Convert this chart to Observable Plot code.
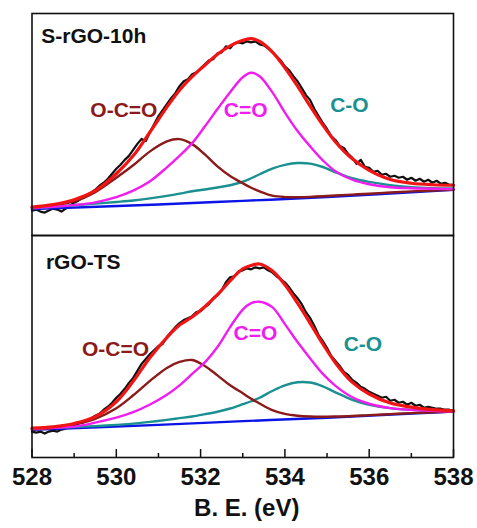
<!DOCTYPE html>
<html><head><meta charset="utf-8">
<script src="https://cdn.jsdelivr.net/npm/d3@7"></script>
<script src="https://cdn.jsdelivr.net/npm/@observablehq/plot@0.6"></script>
<style>body{margin:0;background:#fff} #chart svg{display:block}</style>
</head><body><div id="chart"></div>
<script>
// Panels
const panels = ["S-rGO-10h", "rGO-TS"];

// Raw (measured) spectra, sampled every 0.1 eV from 528 to 538 eV
const rawStart = 528, rawStep = 0.1;
const rawTop = [25,26,24,23,25,27,26,24,27,30, 33,35,38,40,43,46,50,53,57,62, 67,71,76,80,86,92,97,95,104,112, 120,126,132,138,143,150,155,157,162,164, 168,172,176,177,183,184,190,188,193,194, 193,195,194,195,192,191,188,184,180,176, 170,166,160,155,148,141,136,127,120,113, 107,100,96,90,88,82,78,72,76,69, 68,64,65,61,62,59,60,58,59,56, 58,55,57,54,56,53,55,52,53,51, 51];
const rawBottom = [26,25,26,24,26,27,26,28,29,31, 32,34,35,37,39,42,44,48,51,55, 60,64,69,75,80,87,94,99,104,108, 112,114,121,126,131,135,138,140,142,146, 147,151,154,160,163,168,176,181,182,187, 188,190,189,191,190,191,188,186,182,179, 176,171,165,160,154,146,140,132,123,117, 110,102,97,92,86,83,78,75,71,69, 66,64,62,60,61,57,58,55,56,53, 55,52,53,50,51,50,49,49,48,48, 47];

// Fitted components, read at these binding energies (eV)
const fitE = [528,528.5,529,529.5,530,530.4,530.8,531.2,531.5,531.8,532.1,532.4,532.7,533,533.2,533.4,533.7,534,534.3,534.6,534.9,535.2,535.6,536,536.5,537,537.5,538];

const envTop   = [28.5,31,36,45,62,80,104,129,146,159.5,171,182,190.5,196.2,197.8,195,184.5,168.5,150,130,111,94,77,65.5,56.3,52.5,51,50.5];
const coTop    = [27.5,28.8,30.5,33.3,38.5,45,54.5,68.5,80,92.8,109.5,127,144,159,163.5,160,144,123.5,105,89.5,75.5,64.5,56,51.5,48.5,47.5,47,46.5];
const ocoTop   = [27.8,30.3,34.2,43.5,58,70.5,84.5,94.5,96.8,91.8,81.5,69.5,59.8,52.5,48,44.3,40,38.6,38.5,38.8,39.4,40.2,41.1,42,43.2,44.3,45.2,46];
const cOTop    = [27.2,28.8,30.4,32,33.7,35.2,37.3,39.8,42,44.5,46.2,48.2,50.5,54,57.5,61.5,67.3,71,72.8,72.2,68.8,63.5,57.5,53.8,50.5,48.6,47.6,47.2];

const envBot   = [29.5,30.8,34.2,41,56,76.5,100.5,120.5,133,141.2,151.5,163.5,177.5,189.6,193,194.4,187.5,173.5,155,134.8,114,95,75.5,63.8,54.7,50.6,48,46.8];
const coBot    = [28.5,29.8,31,35,40,45.5,53.2,63,72.5,84,95.5,111,131,148.5,155,156.5,151,134,116,99.5,84,72,60.5,54,49.6,47.8,46.8,46.2];
const ocoBot   = [28.5,29.5,33.2,38.8,49.5,62.5,77,90,96,98,92,82.5,72.5,64.5,59,54.2,47.5,43.8,42,41.2,41,41.2,41.7,42.6,43.6,44.6,45.4,46.2];
const cOBot    = [28.8,29.8,30.6,31.5,32.8,34,35.8,37.8,39.5,41.2,43.5,46,49.2,53.5,56.5,60,66.8,72.5,75.6,75.3,71.5,65.5,58,53,49.6,47.8,46.8,46.2];

// Background lines
const bgE = [528,531,533,535,538];
const bgTop = [26.5,31.2,34.8,38.5,46];
const bgBot = [27.8,32.8,36.5,40,46.2];

// Annotation labels
const compNames = ["O-C=O","C=O","C-O"];
const labelETop = [530.18,533.07,535.53], labelITop = [125.5,125.3,130.5];
const labelEBot = [529.98,533.30,535.85], labelIBot = [109.2,125,114.2];
const panelLabelE = [528.22,528.33], panelLabelI = [200.2,196.2];

// Axis ticks and title
const majorTicks = [528,530,532,534,536,538];
const minorTicks = [529,531,533,535,537];
const xTitle = "B. E. (eV)";

const seriesNames = ["Background","C-O","O-C=O","C=O","Fit"];
const seriesColors = ["#0a14e6","#1a9090","#8b1a1a","#f01cf0","#f01414"];

// Build tables
const raw = [];
[[panels[0], rawTop],[panels[1], rawBottom]].forEach(([p, arr]) =>
  arr.forEach((v, i) => raw.push({panel: p, E: rawStart + i*rawStep, I: v})));

const fits = [];
function addSeries(p, name, xs, ys) { xs.forEach((x, i) => fits.push({panel: p, series: name, E: x, I: ys[i]})); }
addSeries(panels[0], "Background", bgE, bgTop);
addSeries(panels[1], "Background", bgE, bgBot);
addSeries(panels[0], "C-O", fitE, cOTop);
addSeries(panels[1], "C-O", fitE, cOBot);
addSeries(panels[0], "O-C=O", fitE, ocoTop);
addSeries(panels[1], "O-C=O", fitE, ocoBot);
addSeries(panels[0], "C=O", fitE, coTop);
addSeries(panels[1], "C=O", fitE, coBot);
const envelope = [];
fitE.forEach((x,i)=>{ envelope.push({panel: panels[0], E: x, I: envTop[i]}); envelope.push({panel: panels[1], E: x, I: envBot[i]}); });

const labels = [];
compNames.forEach((n,i)=>{
  labels.push({panel: panels[0], text: n, E: labelETop[i], I: labelITop[i]});
  labels.push({panel: panels[1], text: n, E: labelEBot[i], I: labelIBot[i]});
});
const panelLabels = panels.map((p,i)=>({panel: p, E: panelLabelE[i], I: panelLabelI[i]}));
const bottomPanel = () => panels[1];

const chart = Plot.plot({
  width: 477, height: 528,
  marginLeft: 31.5, marginRight: 24, marginTop: 12, marginBottom: 70.5,
  style: {fontFamily: "'Liberation Sans', Arial, sans-serif", background: "#fff", color: "#111"},
  x: {domain: [528, 538]},
  y: {domain: [0, 223], axis: null},
  fy: {domain: panels, padding: 0, axis: null},
  color: {domain: seriesNames, range: seriesColors},
  marks: [
    Plot.line(raw, {x: "E", y: "I", fy: "panel", stroke: "#111", strokeWidth: 2.2}),
    Plot.line(fits, {x: "E", y: "I", fy: "panel", z: "series", stroke: "series", strokeWidth: 2.4, curve: "catmull-rom"}),
    Plot.line(envelope, {x: "E", y: "I", fy: "panel", stroke: "#f01414", strokeWidth: 3.2, curve: "catmull-rom"}),
    Plot.text(labels, {x: "E", y: "I", fy: "panel", text: "text", fill: d => seriesColors[seriesNames.indexOf(d.text)], fontSize: 21, fontWeight: "bold"}),
    Plot.text(panelLabels, {x: "E", y: "I", fy: "panel", text: "panel", textAnchor: "start", fill: "#111", fontSize: 21, fontWeight: "bold"}),
    Plot.frame({stroke: "#111", strokeWidth: 1.6}),
    Plot.ruleX(majorTicks, {x: d => d, y1: 0, y2: 8, fy: bottomPanel, stroke: "#111", strokeWidth: 1.5}),
    Plot.ruleX(minorTicks, {x: d => d, y1: 0, y2: 4, fy: bottomPanel, stroke: "#111", strokeWidth: 1.5}),
    Plot.axisX({ticks: majorTicks, tickSize: 0, tickPadding: 10.5, tickFormat: d => String(d), fontSize: 24, fontWeight: "bold", label: null}),
    Plot.text([xTitle], {text: d => d, fy: bottomPanel, frameAnchor: "bottom", lineAnchor: "middle", dx: 4, dy: 50.5, fontSize: 24, fontWeight: "bold", fill: "#111"})
  ]
});
document.getElementById("chart").appendChild(chart);
</script>
</body></html>
